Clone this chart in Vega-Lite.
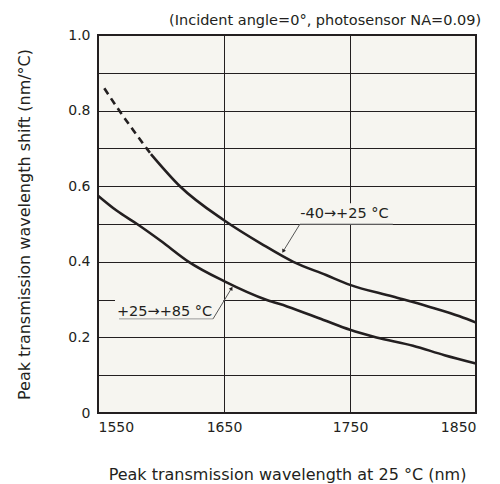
{
  "$schema": "https://vega.github.io/schema/vega-lite/v6.json",
  "width": 378,
  "height": 378,
  "autosize": {"type": "none"},
  "padding": {"left": 98, "top": 35, "right": 24, "bottom": 71},
  "background": "white",
  "config": {
    "font": "DejaVu Sans",
    "view": {"fill": "#f6f5f0", "stroke": "#231f20", "strokeWidth": 2},
    "axis": {"domain": false, "ticks": false, "grid": true, "gridColor": "#231f20", "gridOpacity": 1, "gridWidth": 1, "labelFont": "DejaVu Sans", "labelFontSize": 14, "labelColor": "#231f20", "titleFont": "DejaVu Sans", "titleFontWeight": "normal", "titleColor": "#231f20"}
  },
  "title": {"text": "(Incident angle=0°, photosensor NA=0.09)", "anchor": "end", "font": "DejaVu Sans", "fontSize": 14.5, "fontWeight": "normal", "color": "#231f20", "offset": 0},
  "datasets": {
    "curves": [
      {"series": "-40→+25 °C", "wl": 1592, "shift": 0.685},
      {"series": "-40→+25 °C", "wl": 1615, "shift": 0.6},
      {"series": "-40→+25 °C", "wl": 1650, "shift": 0.51},
      {"series": "-40→+25 °C", "wl": 1680, "shift": 0.447},
      {"series": "-40→+25 °C", "wl": 1705, "shift": 0.4},
      {"series": "-40→+25 °C", "wl": 1731, "shift": 0.365},
      {"series": "-40→+25 °C", "wl": 1750, "shift": 0.339},
      {"series": "-40→+25 °C", "wl": 1784, "shift": 0.308},
      {"series": "-40→+25 °C", "wl": 1812, "shift": 0.282},
      {"series": "-40→+25 °C", "wl": 1837, "shift": 0.256},
      {"series": "-40→+25 °C", "wl": 1850, "shift": 0.239},
      {"series": "+25→+85 °C", "wl": 1550, "shift": 0.575},
      {"series": "+25→+85 °C", "wl": 1565, "shift": 0.535},
      {"series": "+25→+85 °C", "wl": 1581, "shift": 0.5},
      {"series": "+25→+85 °C", "wl": 1600, "shift": 0.455},
      {"series": "+25→+85 °C", "wl": 1622, "shift": 0.4},
      {"series": "+25→+85 °C", "wl": 1650, "shift": 0.349},
      {"series": "+25→+85 °C", "wl": 1684, "shift": 0.299},
      {"series": "+25→+85 °C", "wl": 1700, "shift": 0.282},
      {"series": "+25→+85 °C", "wl": 1729, "shift": 0.246},
      {"series": "+25→+85 °C", "wl": 1750, "shift": 0.22},
      {"series": "+25→+85 °C", "wl": 1771, "shift": 0.2},
      {"series": "+25→+85 °C", "wl": 1800, "shift": 0.178},
      {"series": "+25→+85 °C", "wl": 1825, "shift": 0.153},
      {"series": "+25→+85 °C", "wl": 1850, "shift": 0.131}
    ],
    "dashed": [
      {"series": "-40→+25 °C", "wl": 1555, "shift": 0.859},
      {"series": "-40→+25 °C", "wl": 1567.5, "shift": 0.797},
      {"series": "-40→+25 °C", "wl": 1578, "shift": 0.748},
      {"series": "-40→+25 °C", "wl": 1588.6, "shift": 0.7},
      {"series": "-40→+25 °C", "wl": 1592, "shift": 0.685}
    ],
    "labels": [
      {"label": "-40→+25 °C", "x": 1710.5, "y": 0.516, "bx": 1706, "bx2": 1784, "by": 0.5, "by2": 0.555, "ux": 1710.3, "ux2": 1784, "uy": 0.5, "lx": 1710.3, "ly": 0.5, "tx": 1697, "ty": 0.428, "ang": 209},
      {"label": "+25→+85 °C", "x": 1565, "y": 0.257, "bx": 1563.5, "bx2": 1649.5, "by": 0.249, "by2": 0.302, "ux": 1566.7, "ux2": 1641.3, "uy": 0.249, "lx": 1641.3, "ly": 0.249, "tx": 1656, "ty": 0.33, "ang": 31.5}
    ]
  },
  "layer": [
    {
      "data": {"name": "labels"},
      "mark": {"type": "rect", "fill": "#f6f5f0", "stroke": null},
      "encoding": {
        "x": {"field": "bx", "type": "quantitative", "scale": {"domain": [1550, 1850], "nice": false, "zero": false}, "axis": {"values": [1550, 1650, 1750, 1850], "tickCount": 20, "format": "d", "labelPadding": 7, "title": "Peak transmission wavelength at 25 °C (nm)", "titleFontSize": 16, "titlePadding": 32}},
        "x2": {"field": "bx2"},
        "y": {"field": "by", "type": "quantitative", "scale": {"domain": [0, 1], "nice": false}, "axis": {"values": [0, 0.1, 0.2, 0.3, 0.4, 0.5, 0.6, 0.7, 0.8, 0.9, 1], "tickCount": 20, "labelOverlap": false, "labelExpr": "datum.value == 0 ? '0' : (round(datum.value * 10) % 2 == 1 ? '' : format(datum.value, '.1f'))", "labelPadding": 8, "title": "Peak transmission wavelength shift (nm/°C)", "titleFontSize": 16, "titlePadding": 35}},
        "y2": {"field": "by2"}
      }
    },
    {
      "data": {"name": "curves"},
      "mark": {"type": "line", "color": "#231f20", "strokeWidth": 2.6, "interpolate": "monotone"},
      "encoding": {
        "x": {"field": "wl", "type": "quantitative"},
        "y": {"field": "shift", "type": "quantitative"},
        "detail": {"field": "series"}
      }
    },
    {
      "data": {"name": "dashed"},
      "mark": {"type": "line", "color": "#231f20", "strokeWidth": 2.6, "strokeDash": [7, 5], "interpolate": "monotone"},
      "encoding": {
        "x": {"field": "wl", "type": "quantitative"},
        "y": {"field": "shift", "type": "quantitative"}
      }
    },
    {
      "data": {"name": "labels"},
      "mark": {"type": "rule", "color": "#9a9a9a", "strokeWidth": 1},
      "encoding": {
        "x": {"field": "ux", "type": "quantitative"},
        "x2": {"field": "ux2"},
        "y": {"field": "uy", "type": "quantitative"},
        "y2": {"field": "uy"}
      }
    },
    {
      "data": {"name": "labels"},
      "mark": {"type": "rule", "color": "#555555", "strokeWidth": 1},
      "encoding": {
        "x": {"field": "lx", "type": "quantitative"},
        "x2": {"field": "tx"},
        "y": {"field": "ly", "type": "quantitative"},
        "y2": {"field": "ty"}
      }
    },
    {
      "data": {"name": "labels"},
      "mark": {"type": "point", "shape": "triangle-up", "filled": true, "color": "#231f20", "size": 18, "opacity": 1},
      "encoding": {
        "x": {"field": "tx", "type": "quantitative"},
        "y": {"field": "ty", "type": "quantitative"},
        "angle": {"field": "ang", "type": "quantitative", "scale": null}
      }
    },
    {
      "data": {"name": "labels"},
      "mark": {"type": "text", "align": "left", "baseline": "alphabetic", "fontSize": 14.5, "color": "#231f20"},
      "encoding": {
        "x": {"field": "x", "type": "quantitative"},
        "y": {"field": "y", "type": "quantitative"},
        "text": {"field": "label"}
      }
    }
  ]
}
